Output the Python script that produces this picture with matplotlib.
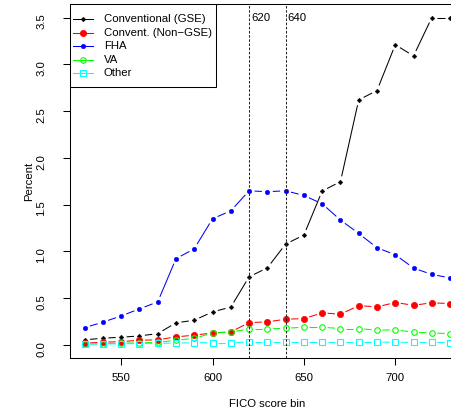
import numpy as np
import matplotlib
matplotlib.use("Agg")
import matplotlib.pyplot as plt
from matplotlib.patches import Rectangle

plt.rcParams['font.family'] = ['Liberation Sans', 'DejaVu Sans']
plt.rcParams['font.size'] = 8.2

# FICO score bins
fico = [530, 540, 550, 560, 570, 580, 590, 600, 610, 620, 630,
        640, 650, 660, 670, 680, 690, 700, 710, 720, 730]

gse = [0.054, 0.072, 0.082, 0.096, 0.121, 0.236, 0.264, 0.353, 0.404, 0.728, 0.824,
       1.078, 1.175, 1.646, 1.745, 2.62, 2.72, 3.21, 3.09, 3.50, 3.50]
non_gse = [0.018, 0.029, 0.035, 0.05, 0.054, 0.086, 0.104, 0.128, 0.139, 0.239, 0.246,
           0.275, 0.281, 0.343, 0.328, 0.42, 0.407, 0.453, 0.424, 0.45, 0.442]
fha = [0.185, 0.243, 0.31, 0.385, 0.46, 0.922, 1.028, 1.349, 1.434, 1.648, 1.638,
       1.648, 1.598, 1.509, 1.335, 1.192, 1.039, 0.964, 0.822, 0.753, 0.717]
va = [0.01, 0.013, 0.018, 0.022, 0.028, 0.05, 0.07, 0.127, 0.137, 0.171, 0.171,
      0.178, 0.189, 0.189, 0.175, 0.175, 0.157, 0.161, 0.136, 0.128, 0.121]
other = [0.008, 0.01, 0.012, 0.015, 0.017, 0.02, 0.022, 0.025, 0.025, 0.03, 0.03,
         0.03, 0.03, 0.03, 0.03, 0.03, 0.03, 0.028, 0.027, 0.027, 0.025]

cutoffs = [620, 640]

series = [
    ("Conventional (GSE)", gse, "black", dict(marker="D", ms=2.4, mfc="black", mec="black", mew=0.3)),
    ("Convent. (Non\u2212GSE)", non_gse, "#ff0000", dict(marker="o", ms=4.5, mfc="#ff0000", mec="#ff0000", mew=0.5)),
    ("FHA", fha, "#0000ff", dict(marker="o", ms=3.3, mfc="#0000ff", mec="#0000ff", mew=0.3)),
    ("VA", va, "#00ff00", dict(marker="o", ms=4.0, mfc="none", mec="#00ff00", mew=0.8)),
    ("Other", other, "#00ffff", dict(marker="s", ms=3.7, mfc="none", mec="#00ffff", mew=0.8)),
]

W, H = 452, 419
fig = plt.figure(figsize=(W / 100, H / 100), dpi=100)
ax_l, ax_t, ax_r, ax_b = 70, 4.5, 464.7, 358
ax = fig.add_axes([ax_l / W, 1 - ax_b / H, (ax_r - ax_l) / W, (ax_b - ax_t) / H])
ax.set_xlim(522, 738)
ax.set_ylim(-0.14, 3.64)


def px(x, y):
    # pixel position -> axes fraction
    return (x - ax_l) / (ax_r - ax_l), (ax_b - y) / (ax_b - ax_t)


def plot_b(xs, ys, color, gap=5.5):
    # R style type="b": segments stop short of the points
    pts = ax.transData.transform(np.column_stack([xs, ys]))
    inv = ax.transData.inverted()
    for p0, p1 in zip(pts[:-1], pts[1:]):
        d = p1 - p0
        L = np.hypot(d[0], d[1])
        if L <= 2 * gap:
            continue
        a = p0 + d / L * gap
        b = p1 - d / L * gap
        seg = inv.transform([a, b])
        ax.plot(seg[:, 0], seg[:, 1], color=color, lw=0.75, solid_capstyle="butt")


for label, vals, color, mk in series:
    plot_b(fico, vals, color)
    ax.plot(fico, vals, linestyle="none", **mk)

for c in cutoffs:
    ax.axvline(c, color="#222222", lw=0.75, linestyle=(0, (2.4, 1.6)))
    ax.annotate(str(c), (c, 3.5), xytext=(1.5, 0), textcoords="offset points",
                ha="left", va="center")

ax.set_xticks([550, 600, 650, 700])
ax.set_yticks([0.0, 0.5, 1.0, 1.5, 2.0, 2.5, 3.0, 3.5])
ax.set_yticklabels(["%.1f" % v for v in ax.get_yticks()])
ax.tick_params(axis="x", direction="out", length=5, width=0.75, pad=5.5)
ax.tick_params(axis="y", direction="out", length=5, width=0.75, pad=12, labelrotation=90)
for s in ax.spines.values():
    s.set_linewidth(0.75)

ax.set_xlabel("FICO score bin")
ax.xaxis.set_label_coords(0.5, -0.117)
ax.set_ylabel("Percent")
ax.yaxis.set_label_coords(-0.0912, 0.5)

# legend box in the top-left corner
lx0, ly0 = px(70, 87)
lx1, ly1 = px(216.5, 4.5)
ax.add_patch(Rectangle((lx0, ly0), lx1 - lx0, ly1 - ly0, transform=ax.transAxes,
                       facecolor="white", edgecolor="black", lw=0.75, zorder=5))
rows = [19, 32.6, 46.2, 59.8, 73.4]
for (label, vals, color, mk), ry in zip(series, rows):
    xa, ya = px(73, ry)
    xb, _ = px(93, ry)
    xm, _ = px(83, ry)
    xt, _ = px(104, ry)
    ax.plot([xa, xb], [ya, ya], color=color, lw=0.75, transform=ax.transAxes, zorder=6)
    ax.plot([xm], [ya], linestyle="none", transform=ax.transAxes, zorder=7, **mk)
    ax.text(xt, ya, label, transform=ax.transAxes, ha="left", va="center", zorder=7)

fig.savefig("out.png", dpi=100)
